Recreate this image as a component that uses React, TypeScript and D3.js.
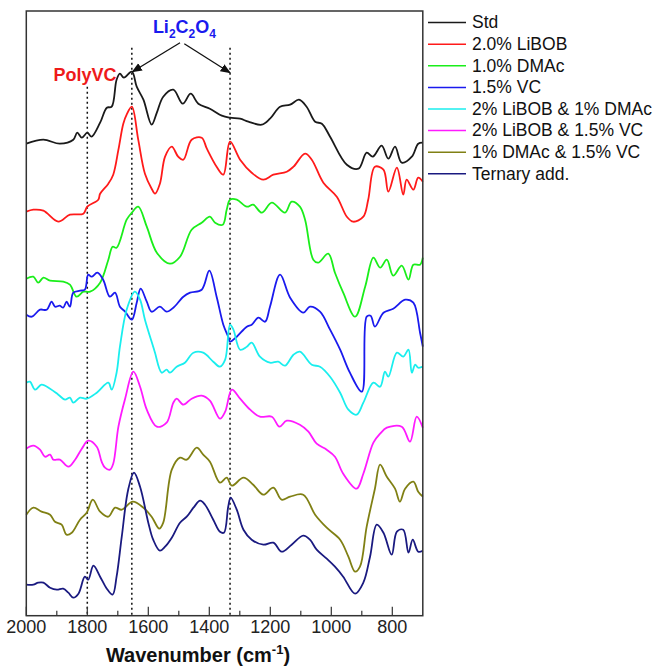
import React from "react";
import * as d3 from "d3";

type Pt = [number, number];

// wavenumber (cm-1), stacked intensity (a.u.)
const std: Pt[] = [
  [2000, 472], [1944, 476], [1890, 472], [1846, 476], [1833, 483], [1818, 478], [1800, 483], [1786, 479],
  [1758, 493], [1736, 508], [1720, 509], [1704, 536], [1693, 542], [1680, 538], [1654, 544], [1638, 529],
  [1616, 516], [1589, 491], [1572, 503], [1551, 519], [1518, 526], [1487, 512], [1461, 522], [1436, 512],
  [1398, 507], [1359, 500], [1332, 498], [1299, 497], [1272, 494], [1228, 491], [1201, 497], [1168, 509],
  [1135, 511], [1106, 516], [1081, 509], [1053, 494], [1031, 492], [1004, 479], [949, 451], [911, 447],
  [884, 463], [864, 459], [835, 470], [813, 457], [791, 469], [769, 453], [736, 459], [715, 472], [700, 473],
];

const libob: Pt[] = [
  [2000, 404], [1977, 406], [1944, 405], [1895, 394], [1857, 401], [1813, 402], [1800, 409], [1764, 416],
  [1758, 422], [1731, 432], [1715, 441], [1698, 466], [1682, 492], [1671, 501], [1654, 509], [1633, 476],
  [1611, 442], [1589, 427], [1578, 422], [1562, 432], [1545, 459], [1523, 469], [1502, 459], [1485, 456],
  [1458, 476], [1425, 478], [1408, 467], [1376, 449], [1354, 441], [1332, 474], [1299, 456], [1261, 443],
  [1223, 436], [1190, 441], [1146, 444], [1124, 449], [1086, 462], [1064, 456], [1026, 433], [982, 419],
  [949, 399], [928, 394], [895, 399], [879, 416], [857, 449], [829, 446], [813, 424], [785, 448],
  [764, 421], [753, 436], [731, 426], [715, 438], [700, 434],
];

const dmac: Pt[] = [
  [2000, 337], [1977, 339], [1961, 333], [1944, 338], [1922, 335], [1879, 334], [1857, 331], [1835, 319],
  [1813, 324], [1791, 324], [1758, 333], [1731, 356], [1717, 369], [1704, 368], [1671, 396], [1654, 403],
  [1633, 409], [1605, 389], [1572, 363], [1529, 352], [1496, 359], [1458, 386], [1425, 393], [1398, 399],
  [1381, 393], [1356, 391], [1343, 406], [1332, 416], [1310, 416], [1277, 409], [1256, 411], [1228, 403],
  [1195, 413], [1152, 403], [1130, 414], [1103, 409], [1086, 396], [1059, 356], [1043, 353], [1010, 362],
  [988, 343], [961, 323], [922, 299], [889, 329], [862, 358], [840, 348], [818, 356], [797, 340],
  [769, 350], [747, 336], [731, 351], [709, 351], [700, 358],
];

const vc: Pt[] = [
  [2000, 301], [1982, 299], [1955, 306], [1933, 306], [1917, 314], [1906, 309], [1890, 310], [1879, 308],
  [1868, 314], [1857, 309], [1846, 323], [1824, 325], [1808, 326], [1797, 341], [1786, 339], [1767, 343],
  [1748, 336], [1726, 319], [1709, 323], [1693, 309], [1676, 304], [1654, 296], [1638, 313], [1625, 327],
  [1605, 314], [1589, 304], [1562, 309], [1540, 304], [1518, 308], [1485, 319], [1463, 323], [1425, 326],
  [1400, 345], [1376, 319], [1354, 291], [1338, 279], [1332, 274], [1310, 279], [1277, 289], [1261, 291],
  [1239, 298], [1217, 294], [1201, 309], [1168, 341], [1135, 318], [1092, 303], [1070, 309], [1037, 304],
  [1004, 286], [971, 266], [939, 243], [900, 224], [884, 299], [871, 300], [857, 289], [829, 303],
  [797, 307], [758, 316], [731, 313], [709, 283], [700, 269],
];

const libobDmac: Pt[] = [
  [2000, 233], [1988, 234], [1971, 226], [1950, 231], [1922, 227], [1895, 221], [1873, 216], [1857, 218],
  [1846, 213], [1824, 218], [1802, 217], [1769, 223], [1731, 233], [1720, 226], [1704, 243], [1693, 269],
  [1671, 306], [1644, 324], [1627, 316], [1611, 296], [1584, 269], [1578, 263], [1556, 243], [1540, 246],
  [1529, 243], [1507, 249], [1480, 253], [1452, 263], [1420, 263], [1387, 254], [1365, 249], [1348, 256],
  [1332, 291], [1321, 286], [1299, 266], [1277, 269], [1261, 273], [1234, 259], [1201, 253], [1174, 254],
  [1152, 250], [1124, 261], [1103, 264], [1064, 251], [1037, 249], [1004, 239], [971, 223], [944, 206],
  [917, 201], [895, 213], [862, 233], [840, 229], [824, 244], [813, 239], [785, 263], [764, 259],
  [747, 266], [736, 243], [725, 251], [715, 248], [700, 249],
];

const libobVc: Pt[] = [
  [2000, 167], [1977, 170], [1955, 166], [1939, 159], [1922, 161], [1911, 156], [1890, 156], [1862, 149],
  [1840, 156], [1818, 167], [1797, 175], [1769, 169], [1753, 154], [1742, 148], [1726, 146], [1715, 152],
  [1698, 189], [1676, 217], [1649, 244], [1627, 229], [1605, 206], [1572, 189], [1540, 193], [1518, 213],
  [1507, 217], [1485, 211], [1458, 217], [1425, 220], [1398, 215], [1365, 197], [1348, 204], [1326, 226],
  [1299, 217], [1266, 206], [1234, 199], [1195, 199], [1170, 189], [1146, 195], [1103, 191], [1075, 184],
  [1048, 172], [1015, 166], [988, 159], [961, 142], [917, 127], [895, 142], [862, 173], [840, 182],
  [818, 188], [769, 189], [742, 174], [720, 199], [700, 188],
];

const dmacVc: Pt[] = [
  [2000, 101], [1977, 108], [1950, 104], [1922, 101], [1906, 94], [1884, 91], [1868, 81], [1851, 83],
  [1824, 96], [1802, 103], [1782, 116], [1758, 104], [1731, 99], [1709, 108], [1687, 106], [1651, 114],
  [1616, 108], [1589, 99], [1564, 87], [1551, 93], [1523, 146], [1496, 158], [1474, 156], [1441, 168],
  [1420, 161], [1398, 154], [1365, 133], [1343, 138], [1326, 130], [1288, 138], [1256, 131], [1223, 121],
  [1190, 128], [1163, 116], [1135, 119], [1092, 121], [1053, 101], [1015, 88], [971, 76], [944, 59],
  [922, 44], [906, 49], [884, 89], [857, 127], [840, 151], [818, 139], [791, 127], [775, 114],
  [758, 127], [731, 134], [715, 124], [700, 119],
];

const ternary: Pt[] = [
  [2000, 31], [1977, 31], [1961, 33], [1944, 33], [1922, 28], [1900, 26], [1879, 27], [1862, 23],
  [1846, 18], [1829, 22], [1808, 39], [1797, 36], [1780, 50], [1758, 39], [1736, 27], [1717, 21],
  [1704, 39], [1687, 79], [1666, 126], [1647, 143], [1627, 129], [1600, 93], [1584, 76], [1562, 65],
  [1545, 69], [1523, 78], [1496, 93], [1474, 99], [1452, 108], [1430, 115], [1414, 111], [1387, 96],
  [1365, 84], [1352, 83], [1338, 109], [1330, 118], [1310, 106], [1288, 86], [1261, 76], [1223, 71],
  [1190, 73], [1163, 64], [1130, 71], [1092, 80], [1070, 76], [1048, 66], [1015, 57], [988, 49],
  [961, 39], [922, 22], [895, 33], [873, 59], [851, 91], [829, 83], [802, 61], [785, 84],
  [764, 86], [747, 63], [733, 76], [715, 64], [700, 65],
];

const seriesNames = [
  "Std", "2.0% LiBOB", "1.0% DMAc", "1.5% VC",
  "2% LiBOB & 1% DMAc", "2% LiBOB & 1.5% VC", "1% DMAc & 1.5% VC", "Ternary add.",
];
const seriesColors = ["#1a1a1a", "#ff1a1a", "#1aee1a", "#1a1aee", "#1aeeee", "#ff1aff", "#808014", "#1a1a80"];
const seriesData = [std, libob, dmac, vc, libobDmac, libobVc, dmacVc, ternary];

const majorTicks = [2000, 1800, 1600, 1400, 1200, 1000, 800];
const minorTicks = [1900, 1700, 1500, 1300, 1100, 900];
const markerLines = [1800, 1654, 1332];

const FONT = "'Liberation Sans', Arial, sans-serif";
const W = 656;
const H = 667;
const plot = { left: 26.3, right: 422.8, top: 11, bottom: 615.7 };

export default function App() {
  const x = d3.scaleLinear().domain([2000, 700]).range([plot.left, plot.right]);
  const y = d3.scaleLinear().domain([0, plot.bottom - plot.top]).range([plot.bottom, plot.top]);
  const line = d3
    .line<Pt>()
    .x((d) => x(d[0]))
    .y((d) => y(d[1]))
    .curve(d3.curveCatmullRom.alpha(0.5));

  // arrow tips sit on the Std peaks
  const arrows = [
    { from: [1496, 573], to: [1652, 544] },
    { from: [1482, 572], to: [1332, 543] },
  ];

  return (
    <svg
      width={W}
      height={H}
      style={{ position: "absolute", left: 0, top: 0, background: "#fff" }}
      fontFamily={FONT}
    >
      <defs>
        <marker id="arrow" viewBox="0 0 10 10" refX="9" refY="5" markerWidth="8" markerHeight="8" orient="auto">
          <path d="M0,1 L10,5 L0,9 z" fill="#111" />
        </marker>
      </defs>

      {/* dotted reference lines */}
      {markerLines.map((w, i) => (
        <line
          key={w}
          x1={x(w)}
          x2={x(w)}
          y1={y(i === 0 ? 529 : 568)}
          y2={plot.bottom}
          stroke="#111"
          strokeWidth={1.5}
          strokeDasharray="2,3"
        />
      ))}

      {seriesData.map((d, i) => (
        <path key={seriesNames[i]} d={line(d) ?? ""} fill="none" stroke={seriesColors[i]} strokeWidth={1.8} />
      ))}

      {/* frame */}
      <rect
        x={plot.left}
        y={plot.top}
        width={plot.right - plot.left}
        height={plot.bottom - plot.top}
        fill="none"
        stroke="#333"
        strokeWidth={1.5}
      />

      {/* bottom axis */}
      {majorTicks.map((t) => (
        <g key={t}>
          <line x1={x(t)} x2={x(t)} y1={plot.bottom} y2={plot.bottom - 9} stroke="#333" strokeWidth={1.2} />
          <text x={x(t)} y={633} textAnchor="middle" fontSize={18} fill="#222">
            {t}
          </text>
        </g>
      ))}
      {minorTicks.map((t) => (
        <line key={t} x1={x(t)} x2={x(t)} y1={plot.bottom} y2={plot.bottom - 5} stroke="#333" strokeWidth={1.2} />
      ))}
      <text x={198} y={662} textAnchor="middle" fontSize={20} fontWeight="bold" fill="#111">
        Wavenumber (cm
        <tspan fontSize={13} dy={-8}>-1</tspan>
        <tspan dy={8}>)</tspan>
      </text>

      {/* annotations */}
      {arrows.map((a, i) => (
        <line
          key={i}
          x1={x(a.from[0])}
          y1={y(a.from[1])}
          x2={x(a.to[0])}
          y2={y(a.to[1])}
          stroke="#111"
          strokeWidth={1.3}
          markerEnd="url(#arrow)"
        />
      ))}
      <text x={x(1585)} y={y(583)} fontSize={18} fontWeight="bold" fill="#1a1aee">
        Li<tspan fontSize={12} dy={5}>2</tspan>
        <tspan dy={-5}>C</tspan>
        <tspan fontSize={12} dy={5}>2</tspan>
        <tspan dy={-5}>O</tspan>
        <tspan fontSize={12} dy={5}>4</tspan>
      </text>
      <text x={x(1911)} y={y(535)} fontSize={18} fontWeight="bold" fill="#ee1a1a">
        PolyVC
      </text>

      {/* legend */}
      {seriesNames.map((name, i) => {
        const base = 28.3 + i * 21.6;
        return (
          <g key={name}>
            <line x1={428} x2={466} y1={base - 5.7} y2={base - 5.7} stroke={seriesColors[i]} strokeWidth={1.5} />
            <text x={472} y={base} fontSize={17.5} fill="#111">
              {name}
            </text>
          </g>
        );
      })}
    </svg>
  );
}
